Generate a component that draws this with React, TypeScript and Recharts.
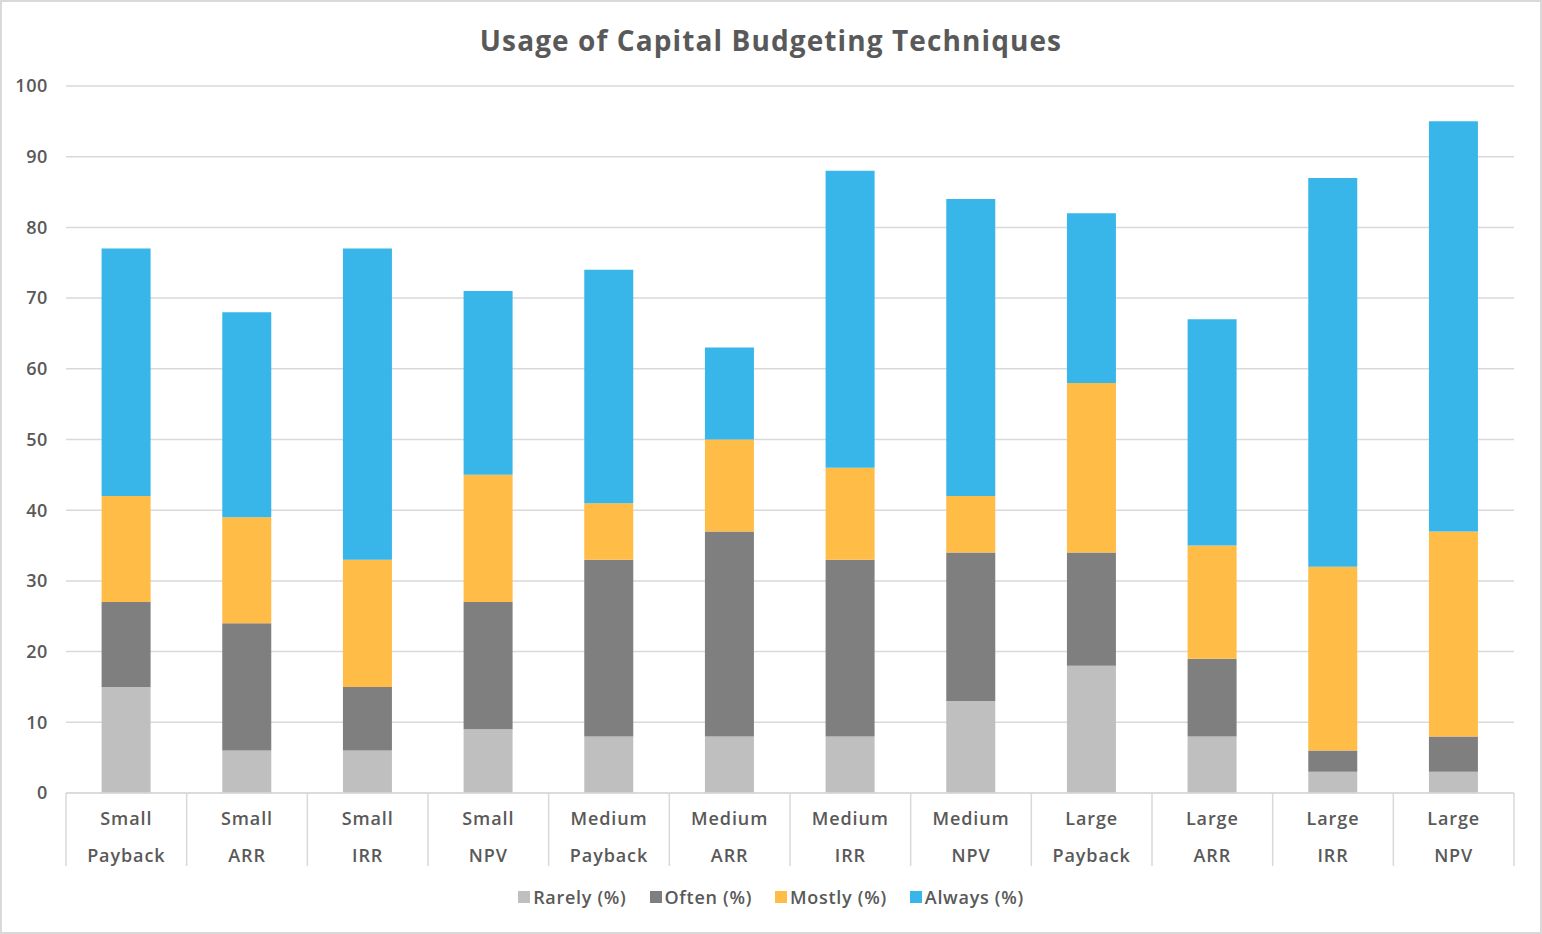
import React from 'react';
import { BarChart, Bar, XAxis, YAxis, CartesianGrid, Legend } from 'recharts';

const sizes = ['Small', 'Small', 'Small', 'Small', 'Medium', 'Medium', 'Medium', 'Medium', 'Large', 'Large', 'Large', 'Large'];
const techniques = ['Payback', 'ARR', 'IRR', 'NPV', 'Payback', 'ARR', 'IRR', 'NPV', 'Payback', 'ARR', 'IRR', 'NPV'];
const rarely = [15, 6, 6, 9, 8, 8, 8, 13, 18, 8, 3, 3];
const often = [12, 18, 9, 18, 25, 29, 25, 21, 16, 11, 3, 5];
const mostly = [15, 15, 18, 18, 8, 13, 13, 8, 24, 16, 26, 29];
const always = [35, 29, 44, 26, 33, 13, 42, 42, 24, 32, 55, 58];
const yTicks = [0, 10, 20, 30, 40, 50, 60, 70, 80, 90, 100];
const seriesOrder = ['Rarely (%)', 'Often (%)', 'Mostly (%)', 'Always (%)'];
const title = 'Usage of Capital Budgeting Techniques';

const data = sizes.map((s, i) => ({
  cat: `${s} ${techniques[i]}`,
  rarely: rarely[i],
  often: often[i],
  mostly: mostly[i],
  always: always[i],
}));

const W = 1542;
const H = 934;
const M = { top: 86, right: 28, left: 0, bottom: 61 };
const Y_W = 66;
const X_H = 80;
const PLOT_W = W - M.left - M.right - Y_W;
const FONT = '"Open Sans", sans-serif';
const TXT = '#595959';
const LINE = '#d9d9d9';

const CategoryTick = (props: any) => {
  const { x, y, payload, index } = props;
  const half = PLOT_W / data.length / 2;
  const parts = String(payload.value).split(' ');
  const textProps = {
    textAnchor: 'middle' as const,
    dominantBaseline: 'central' as const,
    fill: TXT,
    fontSize: 18,
    fontWeight: 600,
    fontFamily: FONT,
    style: { letterSpacing: 0.9 },
  };
  return (
    <g>
      <line x1={x - half} y1={y} x2={x - half} y2={y + 73} stroke={LINE} strokeWidth={1.5} />
      {index === data.length - 1 && (
        <line x1={x + half} y1={y} x2={x + half} y2={y + 73} stroke={LINE} strokeWidth={1.5} />
      )}
      <text x={x} y={y + 25} {...textProps}>
        {parts[0]}
      </text>
      <text x={x} y={y + 62} {...textProps}>
        {parts[1]}
      </text>
    </g>
  );
};

const renderLegend = (props: any) => {
  const payload = [...(props.payload || [])].sort(
    (a: any, b: any) => seriesOrder.indexOf(a.value) - seriesOrder.indexOf(b.value)
  );
  return (
    <div style={{ display: 'flex', justifyContent: 'center', gap: 23, fontFamily: FONT, fontSize: 18, fontWeight: 600, color: TXT, letterSpacing: 0.7 }}>
      {payload.map((p: any) => (
        <span key={p.value} style={{ display: 'flex', alignItems: 'center' }}>
          <span style={{ width: 12, height: 12, background: p.color, marginRight: 3, display: 'inline-block' }} />
          <span>{p.value}</span>
        </span>
      ))}
    </div>
  );
};

export default function App() {
  return (
    <div style={{ position: 'absolute', left: 0, top: 0, width: W, height: H, background: '#fff', fontFamily: FONT }}>
      <div
        style={{
          position: 'absolute',
          left: 0,
          top: 22,
          width: W,
          height: 36,
          lineHeight: '36px',
          textAlign: 'center',
          fontWeight: 700,
          fontSize: 28,
          color: TXT,
          fontFamily: FONT,
          letterSpacing: 1.1,
        }}
      >
        {title}
      </div>
      <BarChart width={W} height={H} data={data} margin={M} barCategoryGap="29.5%">
        <CartesianGrid vertical={false} stroke={LINE} strokeWidth={1.5} />
        <XAxis
          dataKey="cat"
          height={X_H}
          interval={0}
          tickLine={false}
          tickSize={0}
          tickMargin={0}
          axisLine={{ stroke: LINE, strokeWidth: 1.5 }}
          tick={<CategoryTick />}
        />
        <YAxis
          width={Y_W}
          domain={[0, 100]}
          ticks={yTicks}
          axisLine={false}
          tickLine={false}
          tickSize={6}
          tickMargin={12}
          tick={{ fill: TXT, fontSize: 18, fontWeight: 600, fontFamily: FONT, style: { letterSpacing: 0.6 } }}
        />
        <Legend
          layout="horizontal"
          verticalAlign="middle"
          align="center"
          content={renderLegend}
          wrapperStyle={{ position: 'absolute', top: 885, left: 0, width: W }}
        />
        <Bar dataKey="rarely" name="Rarely (%)" stackId="a" fill="#bfbfbf" isAnimationActive={false} />
        <Bar dataKey="often" name="Often (%)" stackId="a" fill="#7f7f7f" isAnimationActive={false} />
        <Bar dataKey="mostly" name="Mostly (%)" stackId="a" fill="#ffbc47" isAnimationActive={false} />
        <Bar dataKey="always" name="Always (%)" stackId="a" fill="#39b6e9" isAnimationActive={false} />
      </BarChart>
      <div style={{ position: 'absolute', left: 0, top: 0, width: W, height: H, border: `2px solid ${LINE}`, boxSizing: 'border-box', pointerEvents: 'none' }} />
    </div>
  );
}
